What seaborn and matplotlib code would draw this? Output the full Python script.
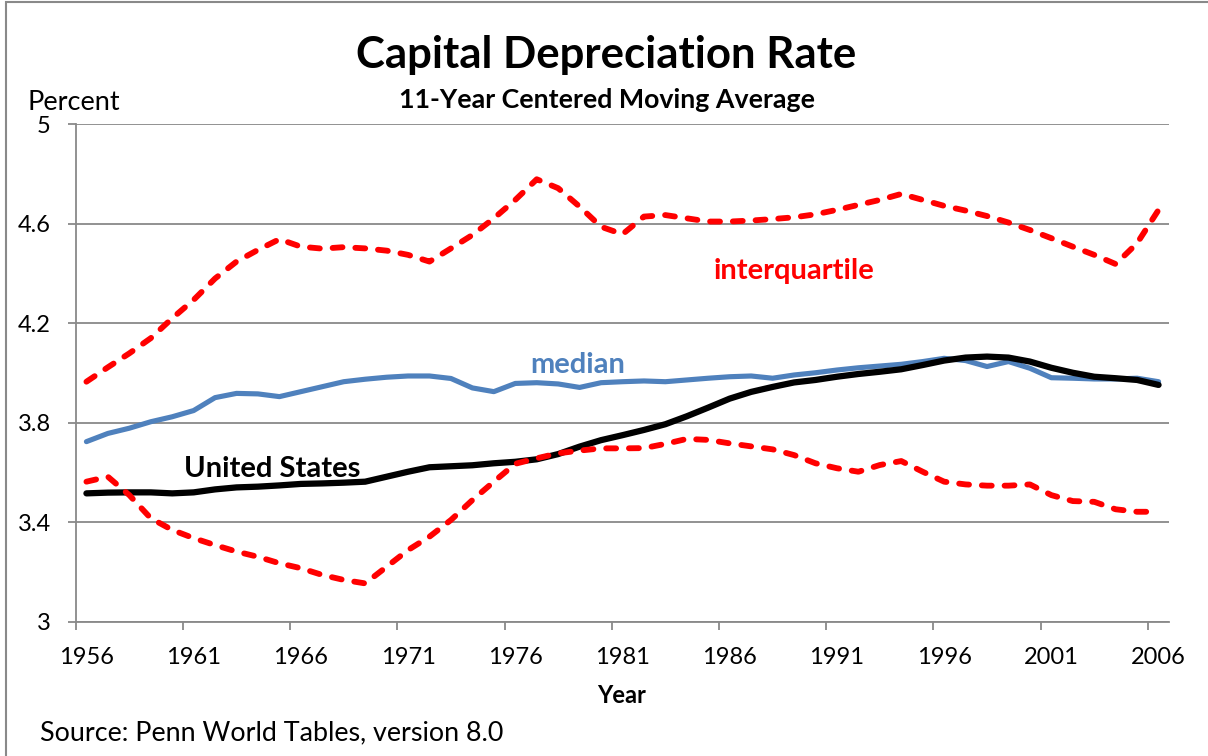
import matplotlib
matplotlib.use("Agg")
import matplotlib.pyplot as plt
import pandas as pd
import seaborn as sns
from matplotlib.patches import Rectangle

years = list(range(1956, 2007))
upper_iq = [3.965, 4.023, 4.079, 4.14, 4.22, 4.294, 4.38, 4.448, 4.495, 4.538,
            4.508, 4.50, 4.506, 4.501, 4.492, 4.475, 4.448, 4.501, 4.555, 4.622,
            4.696, 4.779, 4.743, 4.669, 4.588, 4.558, 4.629, 4.635, 4.622, 4.609,
            4.609, 4.613, 4.619, 4.626, 4.638, 4.656, 4.676, 4.696, 4.72, 4.696,
            4.672, 4.653, 4.631, 4.605, 4.575, 4.542, 4.508, 4.475, 4.438, 4.522,
            4.656]
lower_iq = [3.563, 3.583, 3.509, 3.416, 3.369, 3.336, 3.308, 3.282, 3.261, 3.235,
            3.215, 3.188, 3.168, 3.154, 3.221, 3.288, 3.342, 3.409, 3.489, 3.563,
            3.635, 3.657, 3.677, 3.688, 3.697, 3.697, 3.698, 3.715, 3.735, 3.731,
            3.717, 3.705, 3.693, 3.67, 3.637, 3.617, 3.603, 3.63, 3.646, 3.603,
            3.563, 3.552, 3.547, 3.547, 3.552, 3.509, 3.485, 3.482, 3.452, 3.442,
            3.442]
median = [3.724, 3.757, 3.778, 3.804, 3.824, 3.849, 3.901, 3.918, 3.916, 3.905,
          3.925, 3.945, 3.965, 3.975, 3.983, 3.988, 3.988, 3.978, 3.94, 3.925,
          3.958, 3.961, 3.956, 3.942, 3.961, 3.965, 3.968, 3.965, 3.972, 3.979,
          3.985, 3.988, 3.979, 3.992, 4.001, 4.012, 4.021, 4.028, 4.035, 4.046,
          4.059, 4.05, 4.026, 4.046, 4.019, 3.981, 3.979, 3.976, 3.976, 3.979,
          3.965]
united_states = [3.516, 3.519, 3.52, 3.52, 3.516, 3.52, 3.532, 3.54, 3.543, 3.548,
                 3.554, 3.556, 3.559, 3.563, 3.583, 3.603, 3.621, 3.625, 3.629, 3.637,
                 3.643, 3.653, 3.674, 3.704, 3.73, 3.75, 3.771, 3.794, 3.826, 3.861,
                 3.897, 3.924, 3.944, 3.962, 3.972, 3.985, 3.996, 4.005, 4.015, 4.032,
                 4.05, 4.062, 4.066, 4.062, 4.046, 4.021, 4.001, 3.985, 3.979, 3.972,
                 3.952]
y_ticks = [3, 3.4, 3.8, 4.2, 4.6, 5]
y_tick_labels = ["3", "3.4", "3.8", "4.2", "4.6", "5"]
x_tick_years = list(range(1956, 2007, 5))

sns.set_style("ticks")
plt.rcParams["font.family"] = ["Lato", "DejaVu Sans"]
plt.rcParams["text.color"] = "black"
plt.rcParams["xtick.color"] = "black"
plt.rcParams["ytick.color"] = "black"

W, H = 1208, 756
def fx(px):
    return px / W
def fy(py):
    return 1 - py / H

fig = plt.figure(figsize=(W / 100, H / 100), dpi=100)
ax = fig.add_axes([fx(75.7), fy(621.7), (1169.3 - 75.7) / W, (621.7 - 124.3) / H])

df = pd.DataFrame({"Year": years, "upper": upper_iq, "lower": lower_iq,
                   "median": median, "us": united_states})

GRID = "#898989"
sns.lineplot(data=df, x="Year", y="median", ax=ax, color="#4F81BD",
             linewidth=3.7, solid_capstyle="round", solid_joinstyle="round")
sns.lineplot(data=df, x="Year", y="us", ax=ax, color="black",
             linewidth=4.5, solid_capstyle="round", solid_joinstyle="round")
for col in ["upper", "lower"]:
    sns.lineplot(data=df, x="Year", y=col, ax=ax, color="#FF0000",
                 linewidth=4.2, linestyle=(0, (1.7, 2.2)),
                 dash_capstyle="round", dash_joinstyle="round")

ax.set_xlim(1955.5, 2006.5)
ax.set_ylim(3, 5)
ax.set_xticks(x_tick_years)
ax.set_xticklabels([str(y) for y in x_tick_years])
ax.set_xticks([y - 0.5 for y in x_tick_years], minor=True)
ax.tick_params(axis="x", which="major", length=0, pad=18, labelsize=17, labelcolor="black")
ax.tick_params(axis="x", which="minor", length=6, width=1.3, color=GRID, direction="out")
ax.set_yticks(y_ticks)
ax.set_yticklabels(y_tick_labels)
ax.tick_params(axis="y", which="major", length=6, width=1.3, color=GRID,
               direction="out", pad=12, labelsize=17, labelcolor="black")
ax.yaxis.grid(True, color=GRID, linewidth=1.3)
ax.set_axisbelow(True)
for s in ["top", "right"]:
    ax.spines[s].set_visible(False)
for s in ["left", "bottom"]:
    ax.spines[s].set_color(GRID)
    ax.spines[s].set_linewidth(1.3)
ax.set_xlabel("")
ax.set_ylabel("")

ax.text(1964.66, 3.582, "United States", ha="center", va="baseline",
        fontsize=21, fontweight="bold", color="black")
ax.text(1978.9, 4.0, "median", ha="center", va="baseline",
        fontsize=21, fontweight="bold", color="#4F81BD")
ax.text(1989.0, 4.378, "interquartile", ha="center", va="baseline",
        fontsize=21, fontweight="bold", color="#FF0000")

fig.text(fx(606.5), fy(68), "Capital Depreciation Rate", ha="center", va="baseline",
         fontsize=31.5, fontweight="bold", color="black")
fig.text(fx(606.5), fy(108), "11-Year Centered Moving Average", ha="center",
         va="baseline", fontsize=19.3, fontweight="bold", color="black")
fig.text(fx(28), fy(110), "Percent", ha="left", va="baseline", fontsize=19.5, color="black")
fig.text(fx(622), fy(703), "Year", ha="center", va="baseline", fontsize=17,
         fontweight="bold", color="black")
fig.text(fx(40), fy(740), "Source: Penn World Tables, version 8.0", ha="left",
         va="baseline", fontsize=19.4, color="black")

fig.patches.append(Rectangle((fx(6), -0.05), 1.2, fy(2) + 0.05, transform=fig.transFigure,
                             fill=False, edgecolor=GRID, linewidth=1.5))

fig.savefig("out.png", dpi=100)
